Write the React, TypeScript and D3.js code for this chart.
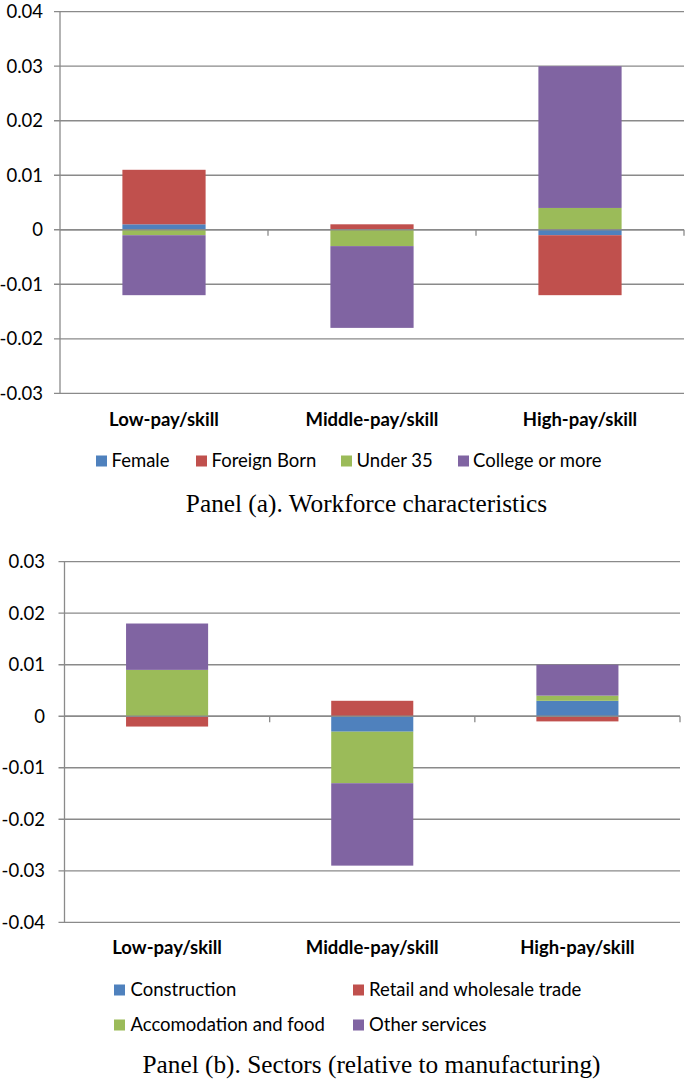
import React from "react";
import * as d3 from "d3";

const categories = ["Low-pay/skill", "Middle-pay/skill", "High-pay/skill"];

// Panel (a) – workforce characteristics
const seriesA = ["Female", "Foreign Born", "Under 35", "College or more"];
const femaleA = [0.001, 0.0, -0.001];
const foreignBornA = [0.01, 0.001, -0.011];
const under35A = [-0.001, -0.003, 0.004];
const collegeA = [-0.011, -0.015, 0.026];
const ticksA = [-0.03, -0.02, -0.01, 0, 0.01, 0.02, 0.03, 0.04];

// Panel (b) – sectors
const seriesB = ["Construction", "Retail and wholesale trade", "Accomodation and food", "Other services"];
const constructionB = [0.0, -0.003, 0.003];
const retailB = [-0.002, 0.003, -0.001];
const accomB = [0.009, -0.01, 0.001];
const otherB = [0.009, -0.016, 0.006];
const ticksB = [-0.04, -0.03, -0.02, -0.01, 0, 0.01, 0.02, 0.03];

const colors = ["#4F81BD", "#C0504D", "#9BBB59", "#8064A2"];
const AXIS = "#8a8a8a";
const SANS = "Lato, 'Open Sans', sans-serif";
const SERIF = "'Liberation Serif', 'DejaVu Serif', serif";

type LegendItem = { sx: number; tx: number; y: number };

type PanelProps = {
  series: string[];
  values: number[][];
  ticks: number[];
  x0: number;
  x1: number;
  yTop: number;
  yBottom: number;
  labelRight: number;
  catY: number;
  legend: LegendItem[];
  title: string;
  titleX: number;
  titleY: number;
};

const fmtTick = (t: number) => (Math.abs(t) < 1e-12 ? "0" : t.toFixed(2));

function Panel(p: PanelProps) {
  const domain = d3.extent(p.ticks) as [number, number];
  const y = d3.scaleLinear().domain(domain).range([p.yBottom, p.yTop]);
  const x = d3.scaleBand<string>().domain(categories).range([p.x0, p.x1]).paddingInner(0.6).paddingOuter(0.3);
  const xb = d3.scaleBand<string>().domain(categories).range([p.x0, p.x1]);

  const rows = categories.map((c, i) => {
    const r: any = { cat: c };
    p.series.forEach((s, k) => (r[s] = p.values[k][i]));
    return r;
  });
  const stacked = d3.stack<any>().keys(p.series).offset(d3.stackOffsetDiverging)(rows);
  const y0 = y(0);

  return (
    <g>
      {p.ticks.map((t) => (
        <line key={"g" + t} x1={p.x0 - 6} x2={p.x1} y1={y(t)} y2={y(t)} stroke={AXIS} strokeWidth={1.3} />
      ))}
      <line x1={p.x0} x2={p.x0} y1={p.yTop} y2={p.yBottom} stroke={AXIS} strokeWidth={1.3} />
      {p.ticks.map((t) => (
        <text
          key={"t" + t}
          x={p.labelRight}
          y={y(t)}
          dy="0.35em"
          textAnchor="end"
          fontFamily={SANS}
          fontSize={18.5}
          fill="#000"
        >
          {fmtTick(t)}
        </text>
      ))}
      {stacked.map((layer, k) => (
        <g key={layer.key} fill={colors[k]}>
          {layer.map((d, i) => {
            const top = y(Math.max(d[0], d[1]));
            const h = Math.abs(y(d[0]) - y(d[1]));
            if (h < 0.01) return null;
            return <rect key={i} x={x(categories[i])} width={x.bandwidth()} y={top} height={h} />;
          })}
        </g>
      ))}
      <line x1={p.x0} x2={p.x1} y1={y0} y2={y0} stroke={AXIS} strokeWidth={1.3} />
      {categories.map((c) => (
        <line
          key={"ct" + c}
          x1={(xb(c) as number) + xb.bandwidth()}
          x2={(xb(c) as number) + xb.bandwidth()}
          y1={y0}
          y2={y0 + 6}
          stroke={AXIS}
          strokeWidth={1.3}
        />
      ))}
      {categories.map((c) => (
        <text
          key={"cl" + c}
          x={(xb(c) as number) + xb.bandwidth() / 2}
          y={p.catY}
          dy="0.35em"
          textAnchor="middle"
          fontFamily={SANS}
          fontWeight="bold"
          fontSize={18.5}
        >
          {c}
        </text>
      ))}
      {p.series.map((s, k) => (
        <g key={"lg" + s}>
          <rect x={p.legend[k].sx} y={p.legend[k].y - 5.5} width={11} height={11} fill={colors[k]} />
          <text x={p.legend[k].tx} y={p.legend[k].y} dy="0.35em" fontFamily={SANS} fontSize={18.5}>
            {s}
          </text>
        </g>
      ))}
      <text x={p.titleX} y={p.titleY} dy="0.35em" textAnchor="middle" fontFamily={SERIF} fontSize={25.3}>
        {p.title}
      </text>
    </g>
  );
}

export default function App() {
  return (
    <svg width={685} height={1080} style={{ position: "absolute", left: 0, top: 0, background: "#fff" }}>
      <rect width={685} height={1080} fill="#fff" />
      <Panel
        series={seriesA}
        values={[femaleA, foreignBornA, under35A, collegeA]}
        ticks={ticksA}
        x0={60}
        x1={684}
        yTop={11.7}
        yBottom={393.3}
        labelRight={43}
        catY={420}
        legend={[
          { sx: 96, tx: 111.5, y: 461 },
          { sx: 196, tx: 211.5, y: 461 },
          { sx: 341, tx: 356.5, y: 461 },
          { sx: 458, tx: 473, y: 461 },
        ]}
        title="Panel (a). Workforce characteristics"
        titleX={366.5}
        titleY={503}
      />
      <Panel
        series={seriesB}
        values={[constructionB, retailB, accomB, otherB]}
        ticks={ticksB}
        x0={64.5}
        x1={680}
        yTop={561.7}
        yBottom={922.3}
        labelRight={45}
        catY={948}
        legend={[
          { sx: 114, tx: 130.5, y: 990 },
          { sx: 353, tx: 369, y: 990 },
          { sx: 114, tx: 130.5, y: 1025 },
          { sx: 353, tx: 369, y: 1025 },
        ]}
        title="Panel (b). Sectors (relative to manufacturing)"
        titleX={371.5}
        titleY={1064}
      />
    </svg>
  );
}
